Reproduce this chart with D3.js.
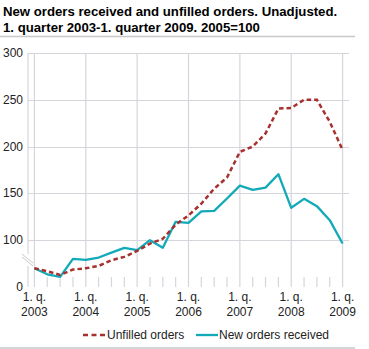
<!DOCTYPE html>
<html><head><meta charset="utf-8">
<script src="https://cdn.jsdelivr.net/npm/d3@7"></script>
<style>body{margin:0;background:#fff;} svg{display:block;font-family:"Liberation Sans",Arial,sans-serif;}</style>
</head><body>
<script>
const quarters = d3.range(25); // 2003Q1 .. 2009Q1
const years = ["2003","2004","2005","2006","2007","2008","2009"];
const unfilled = [70,66.8,62.9,68.6,70,72.5,78.6,82.2,88.5,96.4,101.5,116.5,126.5,139,155,167,194.4,200,214,240.6,241.3,250,250,226.5,196.5];
const newOrders = [70,63.6,60.8,80,79,81.5,86.8,91.8,89.3,100,92,119.6,118.5,130.7,131.4,144.6,158.3,153.8,156.2,170.5,134.6,144.2,136.4,121.4,96.4];
const yTickValues = [50,100,150,200,250,300];
const yTickLabels = ["0","100","150","200","250","300"];
const seriesNames = ["Unfilled orders","New orders received"];

const W=369,H=349;
const svg=d3.select("body").append("svg").attr("width",W).attr("height",H);
const grid="#d5d6dc";
// title
svg.append("text").attr("x",3).attr("y",16).attr("font-size",13.2).attr("font-weight","bold").attr("fill","#000").text("New orders received and unfilled orders. Unadjusted.");
svg.append("text").attr("x",3).attr("y",32).attr("font-size",13.2).attr("font-weight","bold").attr("fill","#000").text("1. quarter 2003-1. quarter 2009. 2005=100");
svg.append("line").attr("x1",0).attr("x2",355).attr("y1",36.5).attr("y2",36.5).attr("stroke","#c8c8c8").attr("stroke-width",1.5);

const x=d3.scaleLinear().domain([-0.5,24.5]).range([28,349]);
const y=d3.scaleLinear().domain([50,300]).range([287,53]);

// horizontal gridlines
svg.append("g").selectAll("line").data(yTickValues.filter(v=>v>50)).join("line")
  .attr("x1",28).attr("x2",349).attr("y1",d=>Math.round(y(d))+0.5).attr("y2",d=>Math.round(y(d))+0.5)
  .attr("stroke",grid).attr("stroke-width",1.2);
// vertical year gridlines
svg.append("g").selectAll("line").data(quarters.filter(q=>q%4===0)).join("line")
  .attr("x1",d=>x(d)).attr("x2",d=>x(d)).attr("y1",53).attr("y2",287)
  .attr("stroke",grid).attr("stroke-width",1.2);
// quarter ticks
svg.append("g").selectAll("line").data(quarters.filter(q=>q%4!==0)).join("line")
  .attr("x1",d=>x(d)).attr("x2",d=>x(d)).attr("y1",277).attr("y2",287)
  .attr("stroke",grid).attr("stroke-width",1.2);
// y axis line with break
svg.append("line").attr("x1",28).attr("x2",28).attr("y1",53).attr("y2",254).attr("stroke",grid).attr("stroke-width",1.2);
svg.append("line").attr("x1",28).attr("x2",28).attr("y1",266).attr("y2",287).attr("stroke",grid).attr("stroke-width",1.2);
svg.append("line").attr("x1",22).attr("x2",33).attr("y1",254).attr("y2",263).attr("stroke","#c8c8c8").attr("stroke-width",1);
svg.append("line").attr("x1",22).attr("x2",33).attr("y1",257).attr("y2",266).attr("stroke","#c8c8c8").attr("stroke-width",1);

// y labels
svg.append("g").selectAll("text").data(yTickValues).join("text")
  .attr("x",23).attr("y",d=>y(d)+4).attr("text-anchor","end").attr("font-size",12).attr("fill","#222")
  .text((d,i)=>yTickLabels[i]);
// x labels
const xl=svg.append("g").selectAll("g").data(years).join("g");
xl.append("text").attr("x",(d,i)=>x(i*4)).attr("y",301).attr("text-anchor","middle").attr("font-size",12).attr("fill","#222").text("1. q.");
xl.append("text").attr("x",(d,i)=>x(i*4)).attr("y",316).attr("text-anchor","middle").attr("font-size",12).attr("fill","#222").text(d=>d);

const line=d3.line().x((d,i)=>x(i)).y(d=>y(d));
const red="#a8302f", teal="#12a9b9";
svg.append("path").datum(newOrders).attr("d",line).attr("fill","none").attr("stroke",teal).attr("stroke-width",2.3).attr("stroke-linejoin","round");
svg.append("path").datum(unfilled).attr("d",line).attr("fill","none").attr("stroke",red).attr("stroke-width",2.5).attr("stroke-dasharray","4.5,3");

// legend
svg.append("line").attr("x1",83).attr("x2",105).attr("y1",335).attr("y2",335).attr("stroke",red).attr("stroke-width",2.5).attr("stroke-dasharray","5,3.5");
svg.append("text").attr("x",107).attr("y",339).attr("font-size",12).attr("fill","#222").text(seriesNames[0]);
svg.append("line").attr("x1",196).attr("x2",218).attr("y1",335).attr("y2",335).attr("stroke",teal).attr("stroke-width",2.3);
svg.append("text").attr("x",219).attr("y",339).attr("font-size",12).attr("fill","#222").text(seriesNames[1]);
svg.append("line").attr("x1",0).attr("x2",355).attr("y1",348).attr("y2",348).attr("stroke","#c8c8c8").attr("stroke-width",1.5);
</script>
</body></html>
